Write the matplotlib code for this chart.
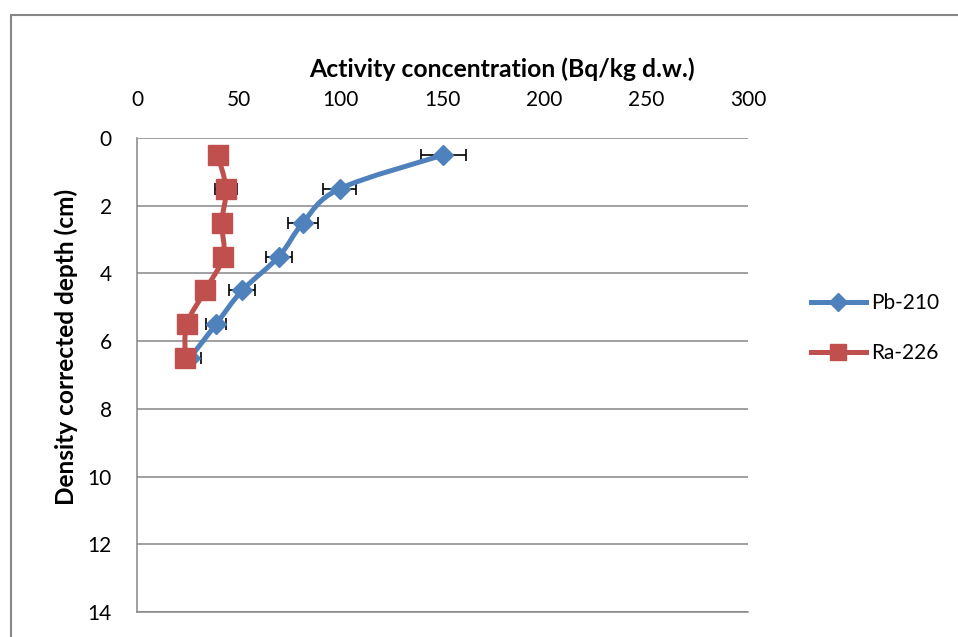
import matplotlib
matplotlib.use('Agg')
import matplotlib.pyplot as plt
from matplotlib.path import Path
from matplotlib.patches import PathPatch, Rectangle
from matplotlib.lines import Line2D
import numpy as np

plt.rcParams['font.family'] = ['Lato', 'DejaVu Sans']

# ── data ────────────────────────────────────────────────────────────────────
depth   = [0.5, 1.5, 2.5, 3.5, 4.5, 5.5, 6.5]
pb210   = [150.4, 99.5, 81.5, 69.7, 51.7, 38.8, 26.0]
pb_err  = [11.0, 8.2, 7.3, 6.4, 6.4, 5.0, 5.5]
ra226   = [39.6, 43.7, 41.6, 42.4, 33.5, 24.5, 23.6]
ra_err  = [4.0, 5.5, 4.0, 4.0, 3.5, 3.0, 3.0]

xticks = [0, 50, 100, 150, 200, 250, 300]
yticks = [0, 2, 4, 6, 8, 10, 12, 14]

BLUE = '#4F81BD'
RED  = '#C0504D'
GRID = '#868686'


def smooth_path(xs, ys, t=1/6.):
    # Excel-style smoothed line: Catmull-Rom segments as cubic Beziers
    pts = np.column_stack([xs, ys]).astype(float)
    n = len(pts)
    verts = [pts[0]]
    codes = [Path.MOVETO]
    for i in range(n - 1):
        p0 = pts[i - 1] if i > 0 else pts[i]
        p1 = pts[i]
        p2 = pts[i + 1]
        p3 = pts[i + 2] if i + 2 < n else pts[i + 1]
        c1 = p1 + (p2 - p0) * t
        c2 = p2 - (p3 - p1) * t
        verts += [c1, c2, p2]
        codes += [Path.CURVE4] * 3
    return Path(verts, codes)


fig = plt.figure(figsize=(9.58, 6.37), dpi=100)
# chart-area frame, cropped at right and bottom like the reference
fig.patches.append(Rectangle((11/958, -0.1), 1.1, 1.1 - 15/637,
                             transform=fig.transFigure, fill=False,
                             edgecolor=GRID, lw=1.5, zorder=0))
ax = fig.add_axes([137/958, 1 - 612/637, 611/958, 474/637])

for xs, errs, col, mk, ms in [(pb210, pb_err, BLUE, 'D', 10),
                              (ra226, ra_err, RED, 's', 14)]:
    ax.errorbar(xs, depth, xerr=errs, fmt='none', ecolor='black',
                elinewidth=1.2, capsize=4, capthick=1.2, zorder=2)
    ax.add_patch(PathPatch(smooth_path(xs, depth), fill=False,
                           edgecolor=col, lw=3.6, capstyle='round',
                           joinstyle='round', zorder=3))
    ax.plot(xs, depth, ls='none', marker=mk, ms=ms, color=col,
            mec=col, zorder=4)

ax.set_xlim(0, 300)
ax.set_ylim(14, 0)
ax.set_xticks(xticks)
ax.set_yticks(yticks)
ax.xaxis.tick_top()
ax.xaxis.set_label_position('top')
ax.tick_params(axis='both', length=0, labelsize=15, colors='black')
ax.tick_params(axis='x', pad=20)
ax.tick_params(axis='y', pad=18)
ax.grid(axis='y', color=GRID, lw=1.1)
ax.set_axisbelow(True)
for s in ['top', 'right']:
    ax.spines[s].set_visible(False)
for s in ['left', 'bottom']:
    ax.spines[s].set_color(GRID)
    ax.spines[s].set_linewidth(1.1)

# axis titles sit off-centre in the reference
ax.set_xlabel('Activity concentration (Bq/kg d.w.)', fontsize=17.8,
              fontweight='bold', va='center')
ax.xaxis.set_label_coords(0.597, 1.146)
ax.set_ylabel('Density corrected depth (cm)', fontsize=17.6,
              fontweight='bold', va='center')
ax.yaxis.set_label_coords(-0.116, 0.559)

handles = [Line2D([], [], color=BLUE, lw=3.6, marker='D', ms=9),
           Line2D([], [], color=RED, lw=3.6, marker='s', ms=12)]
fig.legend(handles, ['Pb-210', 'Ra-226'], loc='center left',
           bbox_to_anchor=(792/958, 1 - 328/637), frameon=False,
           fontsize=15, handlelength=2.65, handletextpad=0.25,
           labelspacing=1.45)

fig.savefig('out.png', dpi=100)
